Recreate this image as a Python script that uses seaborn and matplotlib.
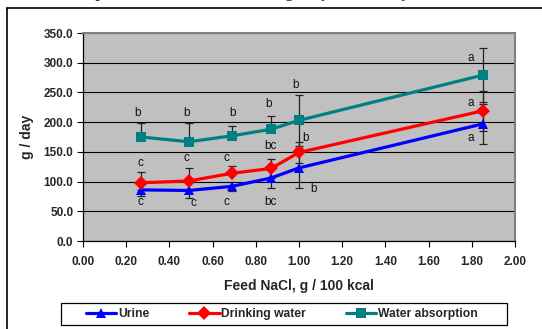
import matplotlib
matplotlib.use("Agg")
import matplotlib.pyplot as plt
from matplotlib.patches import Rectangle
import seaborn as sns
import pandas as pd
import numpy as np

# Feed salt levels (g NaCl / 100 kcal)
nacl = [0.27, 0.49, 0.69, 0.87, 1.00, 1.85]

# Daily amounts (g / day)
urine = [86, 85, 92, 106, 123, 197]
drinking = [98, 101, 114, 122, 149, 219]
absorption = [175, 167, 177, 188, 203, 279]

# Error bar extents (below, above)
urine_lo = [10, 12, 8, 17, 34, 33]
urine_hi = [0, 0, 0, 0, 34, 33]
drinking_lo = [0, 0, 0, 0, 17, 34]
drinking_hi = [18, 22, 13, 16, 17, 34]
absorption_lo = [0, 0, 0, 0, 43, 45]
absorption_hi = [24, 32, 17, 22, 43, 45]

# Significance letters
urine_letters = ["c", "c", "c", "bc", "b", "a"]
drinking_letters = ["c", "c", "c", "bc", "b", "a"]
absorption_letters = ["b", "b", "b", "b", "b", "a"]

series_names = ["Urine", "Drinking water", "Water absorption"]
colors = {"Urine": "#0000FF", "Drinking water": "#FF0000", "Water absorption": "#008080"}
markers = {"Urine": "^", "Drinking water": "D", "Water absorption": "s"}

df = pd.DataFrame({
    "nacl": nacl * 3,
    "value": urine + drinking + absorption,
    "series": [s for s in series_names for _ in nacl],
})

sns.set_style("white")
plt.rcParams["font.family"] = ["Liberation Sans", "DejaVu Sans"]

fig = plt.figure(figsize=(5.42, 3.29), dpi=100)
ax = fig.add_axes([83 / 542, 1 - 241 / 329, 432 / 542, 208 / 329])
ax.set_facecolor("#C0C0C0")

# error bars first so the lines sit on top
err_sets = [
    (urine, urine_lo, urine_hi),
    (drinking, drinking_lo, drinking_hi),
    (absorption, absorption_lo, absorption_hi),
]
for vals, lo, hi in err_sets:
    ax.errorbar(nacl, vals, yerr=[lo, hi], fmt="none", ecolor="#222222",
                elinewidth=0.9, capsize=3, capthick=0.9, zorder=3)

sns.lineplot(data=df, x="nacl", y="value", hue="series", style="series",
             palette=colors, markers=markers, dashes=False,
             linewidth=2.3, markersize=7, markeredgewidth=0,
             ax=ax, zorder=4, legend=True)

# significance letters (data coordinates of each label)
letter_pos = {
    "Water absorption": [(0.253, 216), (0.480, 216), (0.693, 216),
                         (0.858, 230), (0.986, 262), (1.795, 308)],
    "Drinking water": [(0.264, 132), (0.480, 139), (0.665, 139),
                       (0.870, 160), (1.031, 174), (1.795, 232)],
    "Urine": [(0.264, 66), (0.511, 64), (0.665, 66),
              (0.870, 66), (1.066, 87), (1.795, 174)],
}
letters = {"Urine": urine_letters, "Drinking water": drinking_letters,
           "Water absorption": absorption_letters}
for name in series_names:
    for (lx, ly), t in zip(letter_pos[name], letters[name]):
        ax.text(lx, ly, t, ha="center", va="center", fontsize=8.5,
                color="#111111", zorder=5)

ax.set_xlim(0, 2.0)
ax.set_ylim(0, 350)
ax.set_xticks(np.arange(0, 2.01, 0.2))
ax.set_yticks(np.arange(0, 351, 50))
ax.set_xticklabels([f"{v:.2f}" for v in np.arange(0, 2.01, 0.2)],
                   fontsize=8.5, fontweight="bold")
ax.set_yticklabels([f"{v:.1f}" for v in np.arange(0, 351, 50)],
                   fontsize=8.5, fontweight="bold")
ax.yaxis.grid(True, color="black", linewidth=0.8)
ax.xaxis.grid(False)
ax.set_axisbelow(True)
ax.tick_params(axis="both", direction="out", length=4, width=0.8,
               color="black", left=True, bottom=True, pad=3)
ax.tick_params(axis="x", pad=7)

for side in ["left", "bottom"]:
    ax.spines[side].set_color("black")
    ax.spines[side].set_linewidth(0.9)
for side in ["top", "right"]:
    ax.spines[side].set_color("#808080")
    ax.spines[side].set_linewidth(1.5)

ax.set_xlabel("Feed NaCl, g / 100 kcal", fontsize=10, fontweight="bold", labelpad=8)
ax.set_ylabel("g / day", fontsize=10, fontweight="bold", labelpad=7)

# legend across the bottom of the chart area, inside its own box
handles, labels = ax.get_legend_handles_labels()
ax.get_legend().remove()
fig.add_artist(Rectangle((61 / 542, 4 / 329), 446 / 542, 22 / 329,
                         transform=fig.transFigure, facecolor="white",
                         edgecolor="black", linewidth=0.9, zorder=1))
leg = fig.legend(handles, labels, ncol=3, loc="center",
                 bbox_to_anchor=(61 / 542, 4 / 329, 442 / 542, 22 / 329),
                 frameon=False, handlelength=2.5,
                 handletextpad=0.15, columnspacing=3.3, borderpad=0.3,
                 borderaxespad=0, prop={"weight": "bold", "size": 8.7})
leg.set_zorder(2)

# chart frame and the clipped heading above it
fig.add_artist(plt.Line2D([7 / 542, 7 / 542], [0, 1 - 8 / 329],
                          transform=fig.transFigure, color="black", lw=1.2))
fig.add_artist(plt.Line2D([7 / 542, 1], [1 - 8 / 329, 1 - 8 / 329],
                          transform=fig.transFigure, color="black", lw=1.2))
fig.text(0.06, 1.006, "Urine output and total water intake in g / day in the study",
         ha="left", va="baseline", fontsize=11, fontweight="bold",
         family=["Liberation Serif", "DejaVu Serif"])

fig.savefig("out.png", dpi=100)
